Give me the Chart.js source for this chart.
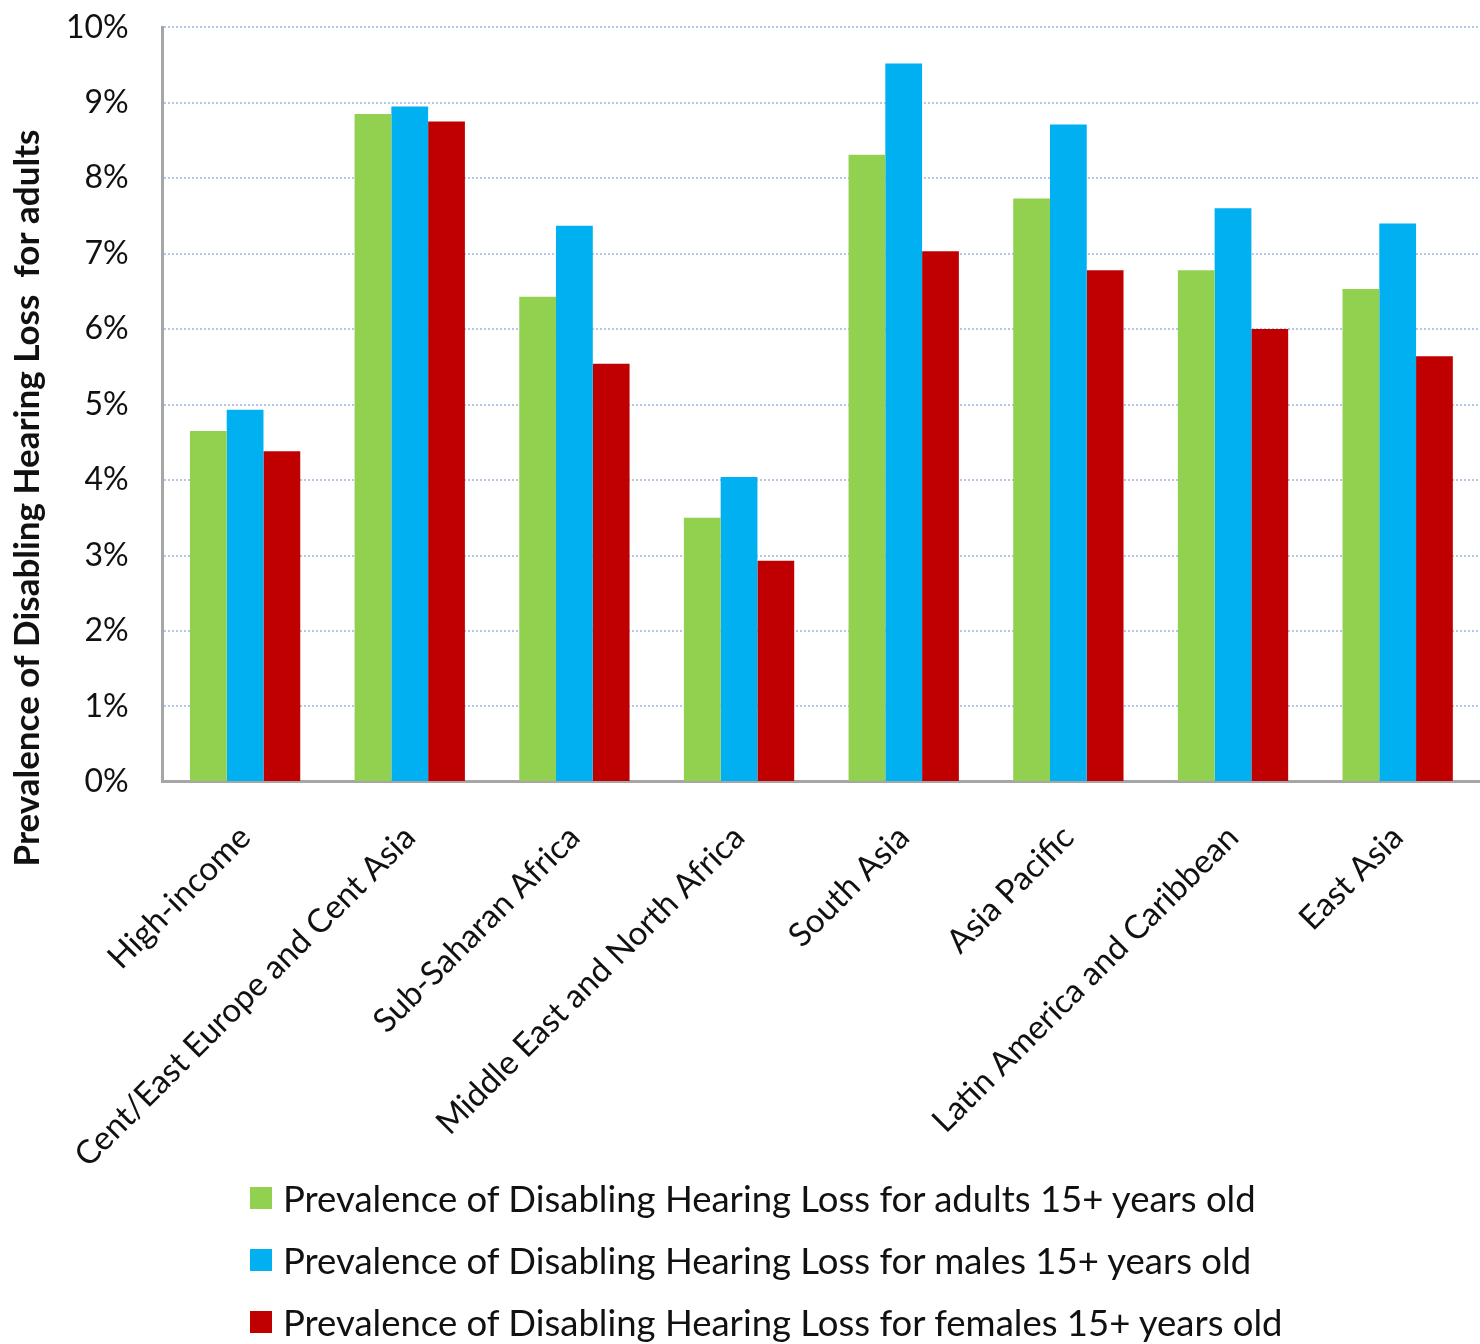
<!DOCTYPE html>
<html>
<head>
<meta charset="utf-8">
<script src="https://cdn.jsdelivr.net/npm/chart.js@4"></script>
<style>
  html, body { margin: 0; padding: 0; background: #fff; }
  #wrap { position: relative; width: 1480px; height: 1344px; overflow: hidden; }
  #box { position: absolute; left: 0; top: -26px; width: 1480px; height: 1229px; }
  #legend { position: absolute; left: 250px; top: 1167px; font-family: Lato, sans-serif; font-size: 36.5px; color: #111; }
  .item { height: 62px; display: flex; align-items: center; }
  .item span.sw { width: 22px; height: 22px; margin-right: 11px; display: inline-block; }
</style>
</head>
<body>
<div id="wrap">
  <div id="box"><canvas id="chart"></canvas></div>
  <div id="legend"></div>
</div>
<script>
// ---- data ----
const regions = [
  "High-income",
  "Cent/East Europe and Cent Asia",
  "Sub-Saharan Africa",
  "Middle East and North Africa",
  "South Asia",
  "Asia Pacific",
  "Latin America and Caribbean",
  "East Asia"
];
const adults  = [4.65, 8.85, 6.43, 3.50, 8.31, 7.73, 6.78, 6.53];
const males   = [4.93, 8.95, 7.37, 4.04, 9.52, 8.71, 7.60, 7.40];
const females = [4.38, 8.75, 5.54, 2.93, 7.03, 6.78, 6.00, 5.64];
const seriesNames = [
  "Prevalence of Disabling Hearing Loss for adults 15+ years old",
  "Prevalence of Disabling Hearing Loss for males 15+ years old",
  "Prevalence of Disabling Hearing Loss for females 15+ years old"
];
const yTitle = "Prevalence of Disabling Hearing Loss\u00a0 for adults";

const colors = ["#92d050", "#00b0f0", "#c00000"];

// y-axis title drawn a bit below the plot's middle, like the original
// (canvas is shifted up 26px, so 498 on the page is 524 here)
const yTitlePlugin = {
  id: "yTitle",
  afterDraw(chart) {
    const ctx = chart.ctx;
    ctx.save();
    ctx.translate(28, 524);
    ctx.rotate(-Math.PI / 2);
    ctx.font = "bold 35px Lato, sans-serif";
    ctx.fillStyle = "#111";
    ctx.textAlign = "center";
    ctx.textBaseline = "middle";
    ctx.fillText(yTitle, 0, 0);
    ctx.restore();
  }
};

const ctx = document.getElementById("chart").getContext("2d");
new Chart(ctx, {
  type: "bar",
  data: {
    labels: regions,
    datasets: [adults, males, females].map((d, i) => ({
      label: seriesNames[i],
      data: d,
      backgroundColor: colors[i],
      borderWidth: 0,
      categoryPercentage: 0.67,
      barPercentage: 1
    }))
  },
  options: {
    responsive: true,
    maintainAspectRatio: false,
    animation: false,
    layout: { padding: { left: 32, top: 0, right: 0, bottom: 0 } },
    plugins: {
      legend: { display: false },
      tooltip: { enabled: false }
    },
    scales: {
      x: {
        grid: { display: false },
        border: { color: "#a6a6a6", width: 3 },
        ticks: {
          color: "#111",
          font: { family: "Lato, sans-serif", size: 33 },
          minRotation: 45,
          maxRotation: 45,
          padding: 28,
          autoSkip: false
        }
      },
      y: {
        min: 0,
        max: 10,
        grid: {
          color: "#b4c7e7",
          lineWidth: 2,
          drawTicks: false
        },
        // in v4 border.dash styles the grid lines (dotted)
        border: { color: "#a6a6a6", width: 3, dash: [2, 2] },
        ticks: {
          stepSize: 1,
          color: "#111",
          padding: 34,
          font: { family: "Lato, sans-serif", size: 32 },
          callback: v => v + "%"
        }
      }
    }
  },
  plugins: [yTitlePlugin]
});

// ---- legend ----
const legend = document.getElementById("legend");
legend.innerHTML = seriesNames.map((name, i) =>
  `<div class="item"><span class="sw" style="background:${colors[i]}"></span>${name}</div>`
).join("");
</script>
</body>
</html>
